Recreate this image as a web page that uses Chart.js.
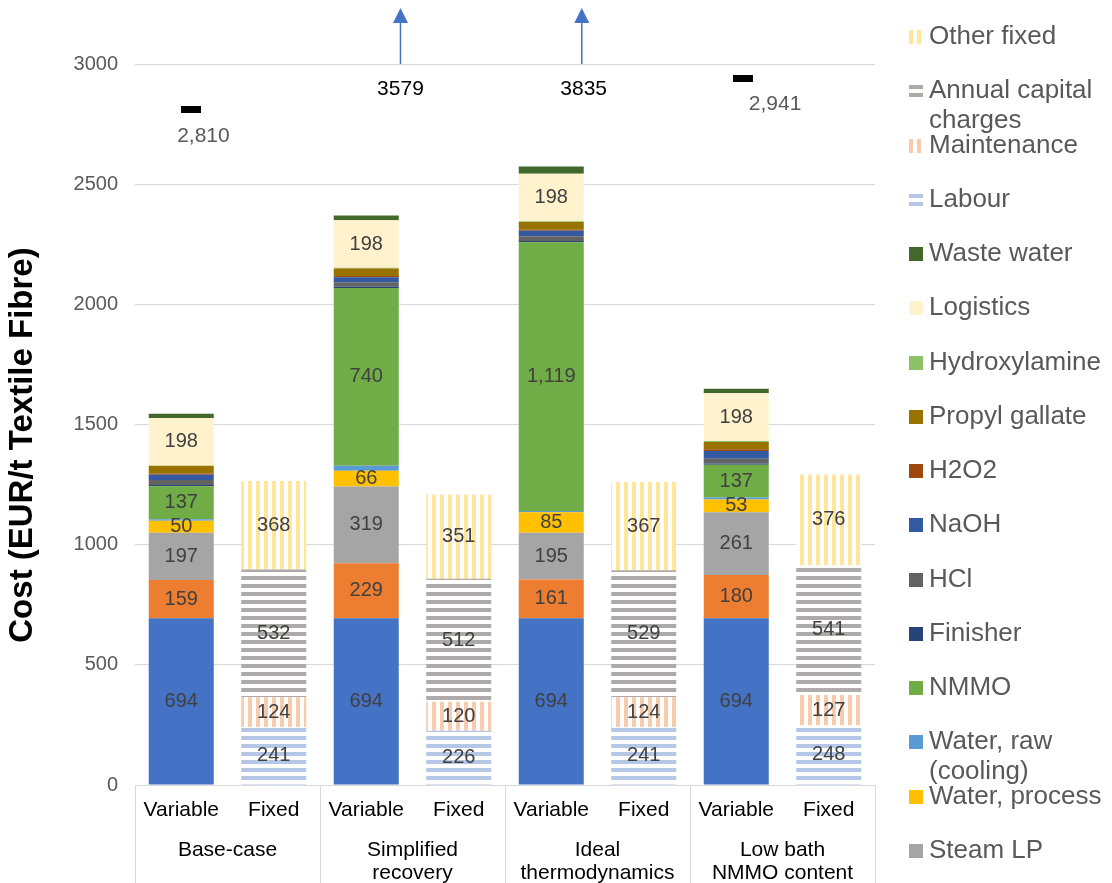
<!DOCTYPE html>
<html>
<head>
<meta charset="utf-8">
<script src="https://cdn.jsdelivr.net/npm/chart.js@4/dist/chart.umd.min.js"></script>
<style>
  html, body { margin: 0; padding: 0; background: #fff; overflow: hidden; }
  #c { display: block; }
</style>
</head>
<body>
<canvas id="c" width="1112" height="883"></canvas>
<script>
// ---- Cost breakdown, EUR per tonne of textile fibre ----
const scenarios = [['Base-case'], ['Simplified', 'recovery'], ['Ideal', 'thermodynamics'], ['Low bath', 'NMMO content']];
const costTypes = ['Variable', 'Fixed'];

// Variable cost items, one value per scenario
const dissolvingPulp = [694, 694, 694, 694];
const electricity    = [159, 229, 161, 180];
const steamLP        = [197, 319, 195, 261];
const waterProcess   = [50, 66, 85, 53];
const waterRaw       = [6, 20, 5, 8];
const nmmo           = [137, 740, 1119, 137];
const finisher       = [5, 5, 5, 5];
const hcl            = [21, 19, 20, 20];
const naoh           = [22, 21, 22, 32];
const h2o2           = [5, 5, 5, 7];
const propylGallate  = [33, 31, 32, 30];
const hydroxylamine  = [0, 3, 3, 5];
const logistics      = [198, 198, 198, 198];
const wasteWater     = [18, 20, 30, 19];

// Fixed cost items, one value per scenario
const labour         = [241, 226, 241, 248];
const maintenance    = [124, 120, 124, 127];
const capitalCharges = [532, 512, 529, 541];
const otherFixed     = [368, 351, 367, 376];

// Total production cost per scenario
const totals = [2810, 3579, 3835, 2941];

// Value axis
const yMin = 0, yMax = 3250, yCap = 3000;
const yTicks = [0, 500, 1000, 1500, 2000, 2500, 3000];
const yTitle = 'Cost (EUR/t Textile Fibre)';

const FONT = '"Liberation Sans", Arial, Helvetica, sans-serif';
Chart.defaults.font.family = FONT;

const canvas = document.getElementById('c');
const ctx = canvas.getContext('2d');

// striped fills used for the fixed-cost items
function stripes(color, dir) {
  const t = document.createElement('canvas');
  t.width = 8; t.height = 8;
  const g = t.getContext('2d');
  g.fillStyle = '#ffffff';
  g.fillRect(0, 0, 8, 8);
  g.fillStyle = color;
  if (dir === 'h') g.fillRect(0, 0, 8, 4); else g.fillRect(0, 0, 4, 8);
  return ctx.createPattern(t, 'repeat');
}

// stacking order: bottom to top
const series = [
  { label: 'Dissolving pulp', values: dissolvingPulp, kind: 'Variable', color: '#4472C4', showValue: true },
  { label: 'Electricity', values: electricity, kind: 'Variable', color: '#ED7D31', showValue: true },
  { label: 'Steam LP', values: steamLP, kind: 'Variable', color: '#A5A5A5', showValue: true },
  { label: 'Water, process', values: waterProcess, kind: 'Variable', color: '#FFC000', showValue: true },
  { label: 'Water, raw (cooling)', values: waterRaw, kind: 'Variable', color: '#5B9BD5' },
  { label: 'NMMO', values: nmmo, kind: 'Variable', color: '#70AD47', showValue: true },
  { label: 'Finisher', values: finisher, kind: 'Variable', color: '#264478' },
  { label: 'HCl', values: hcl, kind: 'Variable', color: '#636363' },
  { label: 'NaOH', values: naoh, kind: 'Variable', color: '#335AA1' },
  { label: 'H2O2', values: h2o2, kind: 'Variable', color: '#9E480E' },
  { label: 'Propyl gallate', values: propylGallate, kind: 'Variable', color: '#997300' },
  { label: 'Hydroxylamine', values: hydroxylamine, kind: 'Variable', color: '#8CC168' },
  { label: 'Logistics', values: logistics, kind: 'Variable', color: '#FFF2CC', showValue: true },
  { label: 'Waste water', values: wasteWater, kind: 'Variable', color: '#43682B' },
  { label: 'Labour', values: labour, kind: 'Fixed', color: '#B4C7E7', stripe: 'h', showValue: true },
  { label: 'Maintenance', values: maintenance, kind: 'Fixed', color: '#F8CBAD', stripe: 'v', showValue: true },
  { label: 'Annual capital charges', values: capitalCharges, kind: 'Fixed', color: '#AEAAAA', stripe: 'h', showValue: true },
  { label: 'Other fixed', values: otherFixed, kind: 'Fixed', color: '#FFE699', stripe: 'v', showValue: true }
];

const barLabels = scenarios.flatMap(() => costTypes);

const datasets = series.map(s => ({
  label: s.label,
  data: s.values.flatMap(v => costTypes.map(t => (t === s.kind ? v : null))),
  backgroundColor: s.stripe ? stripes(s.color, s.stripe) : s.color,
  borderWidth: 0,
  stack: 'cost',
  barPercentage: 0.703,
  categoryPercentage: 1,
  showValue: !!s.showValue,
  swatch: s.color,
  stripe: s.stripe || null
}));

// numbers written inside the bar segments
const valueLabels = {
  id: 'valueLabels',
  afterDatasetsDraw(chart) {
    const c = chart.ctx;
    c.save();
    c.font = '20px ' + FONT;
    c.fillStyle = '#404040';
    c.textAlign = 'center';
    c.textBaseline = 'middle';
    chart.data.datasets.forEach((ds, i) => {
      if (!ds.showValue) return;
      chart.getDatasetMeta(i).data.forEach((el, j) => {
        const v = ds.data[j];
        if (v == null) return;
        c.fillText(v.toLocaleString('en-US'), el.x, (el.y + el.base) / 2);
      });
    });
    c.restore();
  }
};

// scenario totals: a dash inside the axis range, an arrow when beyond it
const totalMarks = {
  id: 'totalMarks',
  afterDatasetsDraw(chart, args, o) {
    const { x, y } = chart.scales;
    const c = chart.ctx;
    c.save();
    c.textAlign = 'center';
    c.textBaseline = 'middle';
    c.font = '21px ' + FONT;
    totals.forEach((t, g) => {
      const mx = x.getPixelForValue(g * 2 + o.markSlot[g]);
      const lx = x.getPixelForValue(g * 2 + o.labelSlot[g]);
      if (t > o.cap) {
        const base = y.getPixelForValue(o.cap);
        const tip = chart.chartArea.top + 4;
        c.strokeStyle = '#4472C4';
        c.fillStyle = '#4472C4';
        c.lineWidth = 1.5;
        c.beginPath();
        c.moveTo(mx, base);
        c.lineTo(mx, tip + 12);
        c.stroke();
        c.beginPath();
        c.moveTo(mx, tip);
        c.lineTo(mx - 7.5, tip + 15);
        c.lineTo(mx + 7.5, tip + 15);
        c.closePath();
        c.fill();
        c.fillStyle = '#000000';
        c.fillText(String(t), lx, base + 25);
      } else {
        const py = y.getPixelForValue(t);
        c.fillStyle = '#000000';
        c.fillRect(Math.round(mx - 10), Math.round(py - 3.5), 20, 7);
        c.fillStyle = '#595959';
        c.fillText(t.toLocaleString('en-US'), lx, py + 26);
      }
    });
    c.restore();
  }
};

// group separators below the plot
const groupDividers = {
  id: 'groupDividers',
  afterDraw(chart) {
    const x = chart.scales.x;
    const c = chart.ctx;
    c.save();
    c.strokeStyle = '#D9D9D9';
    c.lineWidth = 1;
    for (let g = 0; g <= scenarios.length; g++) {
      const px = Math.round(x.getPixelForValue(g * 2 - 0.5)) + 0.5;
      c.beginPath();
      c.moveTo(px, chart.chartArea.bottom);
      c.lineTo(px, chart.height);
      c.stroke();
    }
    c.restore();
  }
};

// rotated value-axis title
const axisTitle = {
  id: 'axisTitle',
  afterDraw(chart, args, o) {
    const c = chart.ctx;
    c.save();
    c.translate(o.x, o.y);
    c.rotate(-Math.PI / 2);
    c.font = 'bold ' + o.size + 'px ' + FONT;
    c.fillStyle = '#000000';
    c.textAlign = 'center';
    c.textBaseline = 'middle';
    c.fillText(yTitle, 0, 0);
    c.restore();
  }
};

function wrapText(c, text, maxW) {
  const words = text.split(' ');
  const lines = [];
  let cur = '';
  words.forEach(w => {
    const test = cur ? cur + ' ' + w : w;
    if (cur && c.measureText(test).width > maxW) { lines.push(cur); cur = w; }
    else cur = test;
  });
  if (cur) lines.push(cur);
  return lines;
}

// legend column on the right, top entry = top of the stack
const sideLegend = {
  id: 'sideLegend',
  afterDraw(chart, args, o) {
    const c = chart.ctx;
    c.save();
    c.font = o.fontSize + 'px ' + FONT;
    c.textAlign = 'left';
    c.textBaseline = 'middle';
    const items = chart.data.datasets.slice().reverse();
    items.forEach((ds, k) => {
      const cy = o.top + k * o.step;
      const bx = o.boxX, by = Math.round(cy - 7);
      c.fillStyle = ds.swatch;
      if (ds.stripe === 'v') {
        c.fillRect(bx, by, 4, 14);
        c.fillRect(bx + 8, by, 4, 14);
      } else if (ds.stripe === 'h') {
        c.fillRect(bx, by + 1, 14, 4);
        c.fillRect(bx, by + 9, 14, 4);
      } else {
        c.fillRect(bx, by, 14, 14);
      }
      c.fillStyle = '#595959';
      wrapText(c, ds.label, o.maxWidth).forEach((ln, li) => {
        c.fillText(ln, o.textX, cy + li * o.lineGap);
      });
    });
    c.restore();
  }
};

new Chart(ctx, {
  type: 'bar',
  data: { labels: barLabels, datasets },
  options: {
    responsive: false,
    animation: false,
    events: [],
    layout: { padding: { left: 0, right: 237, top: 4, bottom: 0 } },
    plugins: {
      legend: { display: false },
      tooltip: { enabled: false },
      totalMarks: { cap: yCap, markSlot: [0.1, 0.37, 0.33, 0.07], labelSlot: [0.24, 0.37, 0.35, 0.42] },
      axisTitle: { x: 23, y: 445, size: 33 },
      sideLegend: { top: 37, step: 54.25, boxX: 909, textX: 929, fontSize: 26, lineGap: 30, maxWidth: 180 }
    },
    scales: {
      x: {
        stacked: true,
        grid: { display: false },
        border: { display: true, color: '#D9D9D9', width: 1 },
        ticks: { color: '#000000', font: { size: 21 }, padding: 5, autoSkip: false, maxRotation: 0 },
        afterFit(s) { s.height = 44; }
      },
      x2: {
        type: 'category',
        position: 'bottom',
        labels: scenarios,
        offset: true,
        grid: { display: false },
        border: { display: false },
        ticks: { color: '#000000', font: { size: 21, lineHeight: 1.1 }, padding: 2, autoSkip: false, maxRotation: 0 },
        afterFit(s) { s.height = 54; }
      },
      y: {
        stacked: true,
        min: yMin,
        max: yMax,
        border: { display: false },
        grid: { color: '#D9D9D9', lineWidth: 1, drawTicks: false },
        ticks: { color: '#595959', font: { size: 20 }, padding: 17, callback: v => String(v) },
        afterBuildTicks(s) { s.ticks = yTicks.map(v => ({ value: v })); },
        afterFit(s) { s.width = 135; s.paddingTop = 0; s.paddingBottom = 0; }
      }
    }
  },
  plugins: [valueLabels, totalMarks, groupDividers, axisTitle, sideLegend]
});
</script>
</body>
</html>
